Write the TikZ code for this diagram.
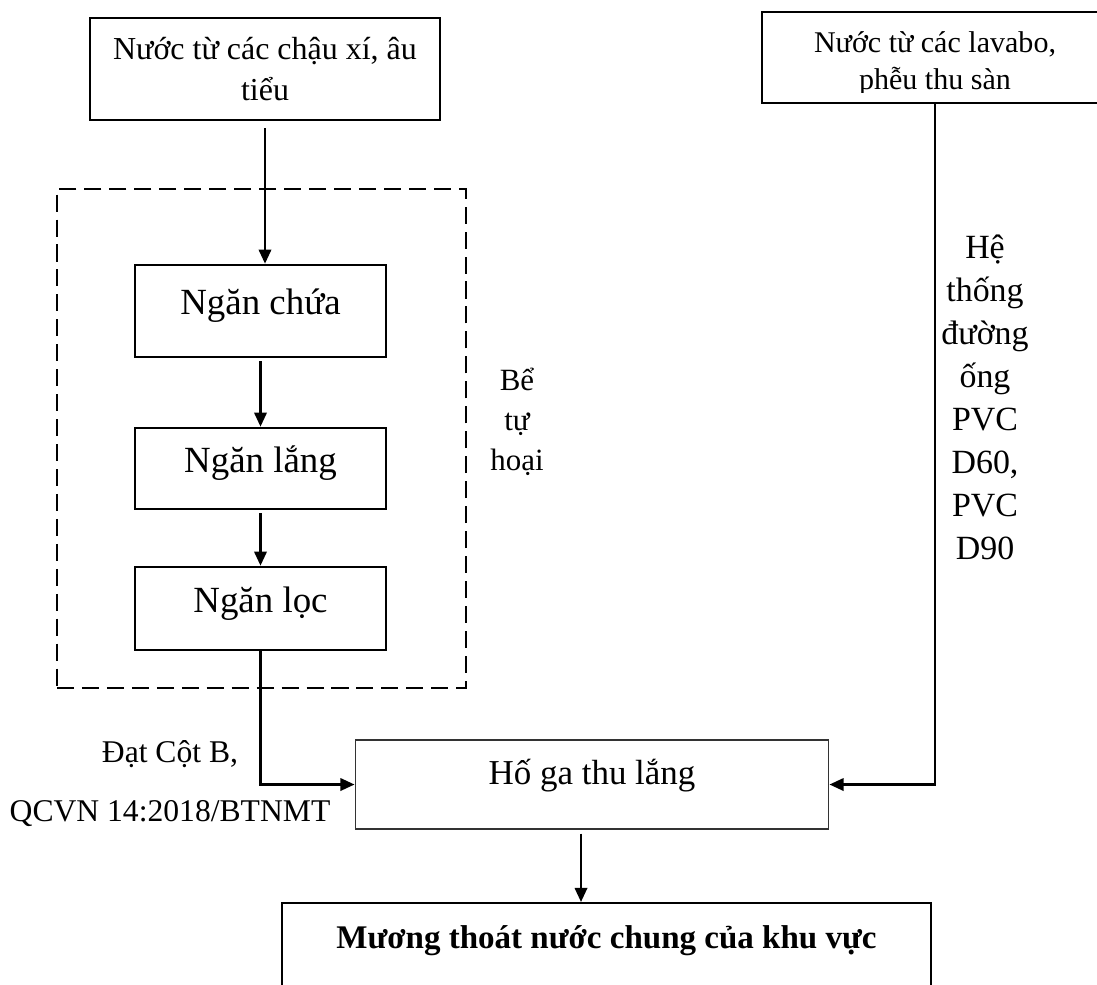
\documentclass[tikz,border=0pt]{standalone}
\usepackage{fontspec}
\setmainfont{Liberation Serif}
\usepackage{tikz}
\usetikzlibrary{arrows.meta,calc}

\tikzset{
  khung/.style={draw, line width=1.5pt, inner sep=0pt},
  ngan/.style={khung, minimum width=5.02cm, font=\fontsize{21pt}{25pt}\selectfont, text height=0.65em, text depth=0.25em},
  muiten/.style={line width=1.4pt, -{Triangle[length=8pt,width=7pt]}},
  chu/.style={align=center, inner sep=0pt}
}

\begin{document}
\begin{tikzpicture}[x=0.02cm,y=-0.02cm]
\useasboundingbox (0,0) rectangle (1097,984);
\node[khung, minimum width=7cm, minimum height=2.04cm, align=center, font=\fontsize{18.2pt}{22.8pt}\selectfont] (chau) at (265,69) {Nước từ các chậu xí, âu\\tiểu};
\node[khung, minimum width=6.92cm, minimum height=1.82cm] (lavabo) at (935,57.5) {};
\begin{scope}
\clip (lavabo.north west) rectangle ([yshift=0.24cm]lavabo.south east);
\node[chu, font=\fontsize{17.1pt}{21pt}\selectfont] (lavabotxt) at ([yshift=-0.13cm]lavabo.center) {Nước từ các lavabo,\\phễu thu sàn};
\end{scope}
\node[draw, dash pattern=on 9.7pt off 4.5pt, line width=1.4pt, minimum width=8.18cm, minimum height=9.98cm] (be) at (261.5,438.5) {};
\node[ngan, minimum height=1.84cm] (chua) at (260.5,311) {Ngăn chứa};
\node[ngan, minimum height=1.62cm] (lang) at (260.5,468.5) {Ngăn lắng};
\node[ngan, minimum height=1.66cm] (loc) at (260.5,608.5) {Ngăn lọc};
\node[chu, font=\fontsize{17.6pt}{22.8pt}\selectfont] (betuhoai) at (517,422) {Bể\\tự\\hoại};
\node[chu, font=\fontsize{19.3pt}{24.5pt}\selectfont] (duongong) at (985,397.5) {Hệ\\thống\\đường\\ống\\PVC\\D60,\\PVC\\D90};
\node[draw=black!80, line width=0.6pt, minimum width=9.48cm, minimum height=1.78cm, font=\fontsize{19.9pt}{24pt}\selectfont, text height=0.5em, text depth=0.5em] (hoga) at (592,784.5) {Hố ga thu lắng};
\node[chu, font=\fontsize{18pt}{34.1pt}\selectfont] (dat) at (170,783.5) {Đạt Cột B,\\QCVN 14:2018/BTNMT};
\node[draw, line width=1.2pt, minimum width=12.98cm, anchor=north, inner ysep=0pt, text height=0.9cm, text depth=1.26cm, font=\fontsize{18.8pt}{22pt}\selectfont\bfseries] (muong) at (606.5,902) {Mương thoát nước chung của khu vực};

\draw[muiten, shorten <=0.14cm] (chau.south) -- (chau.south |- chua.north);
\draw[muiten, shorten <=0.06cm] (chua.south) -- (lang.north);
\draw[muiten, shorten <=0.06cm] (lang.south) -- (loc.north);
\draw[muiten] (loc.south) |- (hoga.west);
\draw[muiten] (lavabo.south) |- (hoga.east);
\draw[muiten, shorten <=0.08cm] ([xshift=-0.22cm]hoga.south) -- ([xshift=-0.22cm]hoga.south |- muong.north);
\end{tikzpicture}
\end{document}
